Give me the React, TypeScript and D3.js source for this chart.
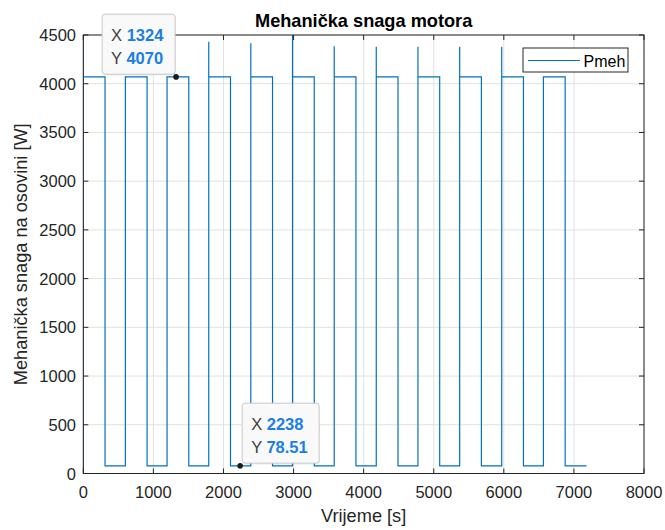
import React from 'react';
import * as d3 from 'd3';

// ---- data ----
const riseTimes = [0, 600, 1195, 1790, 2390, 2985, 3580, 4180, 4775, 5370, 5970, 6565];
const fallTimes = [310, 910, 1505, 2100, 2700, 3295, 3890, 4490, 5085, 5680, 6280, 6875];
const spikePeaks = [4600, 4070, 4070, 4430, 4415, 4600, 4385, 4380, 4380, 4380, 4380, 4070];
const endTime = 7180;
const highLevel = 4070;
const lowLevel = 78.51;
const xTicks = [0, 1000, 2000, 3000, 4000, 5000, 6000, 7000, 8000];
const yTicks = [0, 500, 1000, 1500, 2000, 2500, 3000, 3500, 4000, 4500];
const tipXs = [1324, 2238];
const tipYs = [4070, 78.51];
const tipLabelsX = ['1324', '2238'];
const tipLabelsY = ['4070', '78.51'];
const tipSides = ['left', 'right'];

const W = 665;
const H = 530;
const L = 83.3, R = 644, T = 35, B = 473.5;
const FONT = '"Liberation Sans", Arial, Helvetica, sans-serif';
const AX = '#262626';

export default function App() {
  const x = d3.scaleLinear().domain([0, 8000]).range([L, R]);
  const y = d3.scaleLinear().domain([0, 4500]).range([B, T]);

  const pts: [number, number][] = [[0, 0]];
  riseTimes.forEach((r, i) => {
    pts.push([r, i === 0 ? 0 : lowLevel]);
    pts.push([r, spikePeaks[i]]);
    pts.push([r, highLevel]);
    pts.push([fallTimes[i], highLevel]);
    pts.push([fallTimes[i], lowLevel]);
  });
  pts.push([endTime, lowLevel]);
  const line = d3.line<[number, number]>().x(d => x(d[0])).y(d => y(d[1]));
  const path = line(pts) || '';

  const tickLen = 5;

  return (
    <svg width={W} height={H} style={{ position: 'absolute', left: 0, top: 0, background: '#fff' }}
      fontFamily={FONT}>
      <defs>
        <clipPath id="plotclip">
          <rect x={L} y={T} width={R - L} height={B - T} />
        </clipPath>
      </defs>
      <rect x={0} y={0} width={W} height={H} fill="#fff" />
      {/* grid */}
      {xTicks.map(t => (
        <line key={'gx' + t} x1={x(t)} x2={x(t)} y1={T} y2={B} stroke="#e2e2e2" strokeWidth={1} />
      ))}
      {yTicks.map(t => (
        <line key={'gy' + t} x1={L} x2={R} y1={y(t)} y2={y(t)} stroke="#e2e2e2" strokeWidth={1} />
      ))}
      {/* data line */}
      <path d={path} fill="none" stroke="#0072BD" strokeWidth={1.2} clipPath="url(#plotclip)" />
      {/* axes box */}
      <rect x={L} y={T} width={R - L} height={B - T} fill="none" stroke={AX} strokeWidth={1} />
      {/* ticks */}
      {xTicks.map(t => (
        <g key={'tx' + t}>
          <line x1={x(t)} x2={x(t)} y1={B} y2={B - tickLen} stroke={AX} />
          <line x1={x(t)} x2={x(t)} y1={T} y2={T + tickLen} stroke={AX} />
          <text x={x(t)} y={498} textAnchor="middle" fontSize={16.5} fill={AX}>{t}</text>
        </g>
      ))}
      {yTicks.map(t => (
        <g key={'ty' + t}>
          <line x1={L} x2={L + tickLen} y1={y(t)} y2={y(t)} stroke={AX} />
          <line x1={R} x2={R - tickLen} y1={y(t)} y2={y(t)} stroke={AX} />
          <text x={76} y={y(t) + 6} textAnchor="end" fontSize={16.5} fill={AX}>{t}</text>
        </g>
      ))}
      {/* labels */}
      <text x={(L + R) / 2} y={522} textAnchor="middle" fontSize={18.2} fill={AX}>Vrijeme [s]</text>
      <text transform={`translate(27,${(T + B) / 2}) rotate(-90)`} textAnchor="middle" fontSize={18.2} fill={AX}>
        Mehanička snaga na osovini [W]
      </text>
      <text x={(L + R) / 2} y={27} textAnchor="middle" fontSize={18.2} fontWeight="bold" fill="#000">
        Mehanička snaga motora
      </text>
      {/* legend */}
      <rect x={523} y={48} width={105} height={24} fill="#fff" stroke={AX} strokeWidth={1} />
      <line x1={528} x2={580} y1={60.5} y2={60.5} stroke="#0072BD" strokeWidth={1.2} />
      <text x={583.5} y={66.5} fontSize={16} fill="#000">Pmeh</text>
      {/* data tips */}
      {tipXs.map((tx, i) => {
        const px = x(tx);
        const py = y(tipYs[i]);
        const w = i === 0 ? 73 : 77;
        const h = 60;
        const bx = tipSides[i] === 'left' ? px - 1 - w : px + 2;
        const by = py - 2.7 - h;
        return (
          <g key={'tip' + i}>
            <rect x={bx + 1} y={by + 1.5} width={w} height={h} rx={3} fill="#000" opacity={0.06} />
            <rect x={bx} y={by} width={w} height={h} rx={3} fill="#f9f9f9" stroke="#c9c9c9" strokeWidth={1} />
            <text x={bx + 9} y={by + 27} fontSize={16.5} fill="#404040">
              X <tspan fill="#1a7fe4" fontWeight="bold">{tipLabelsX[i]}</tspan>
            </text>
            <text x={bx + 9} y={by + 49.5} fontSize={16.5} fill="#404040">
              Y <tspan fill="#1a7fe4" fontWeight="bold">{tipLabelsY[i]}</tspan>
            </text>
            <circle cx={px} cy={py} r={2.8} fill="#1a1a1a" />
          </g>
        );
      })}
    </svg>
  );
}
